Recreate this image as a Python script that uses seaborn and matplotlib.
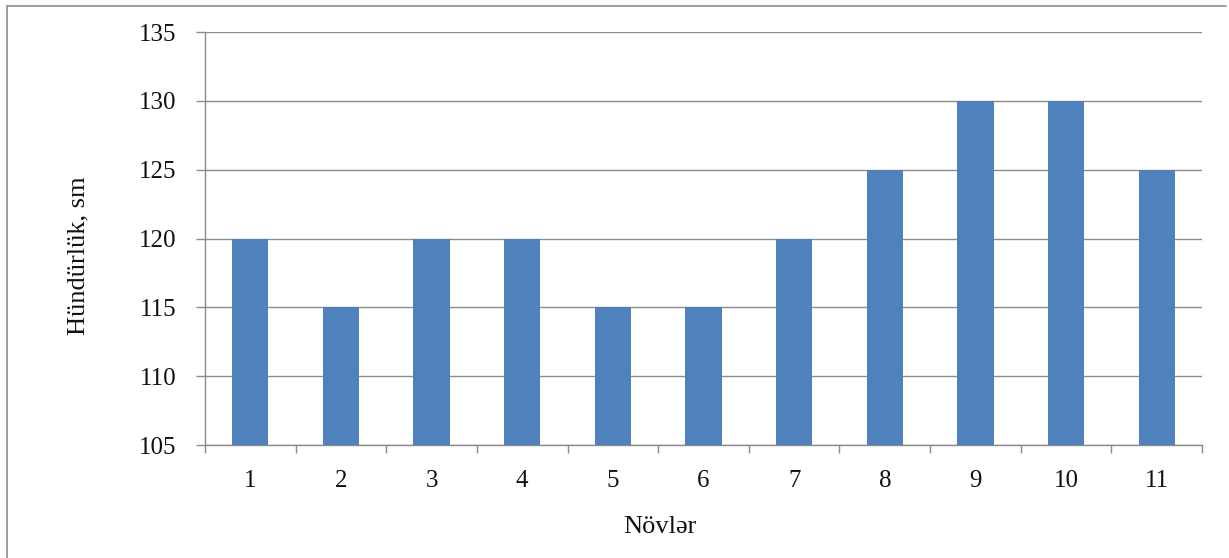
import matplotlib
matplotlib.use("Agg")
import matplotlib.pyplot as plt
import seaborn as sns
import pandas as pd
from matplotlib.lines import Line2D
from matplotlib.ticker import FixedLocator

# Heights of the varieties (cm)
categories = ["1", "2", "3", "4", "5", "6", "7", "8", "9", "10", "11"]
heights = [120, 115, 120, 120, 115, 115, 120, 125, 130, 130, 125]
y_ticks = [105, 110, 115, 120, 125, 130, 135]

sns.set_theme(style="white")
plt.rcParams["font.family"] = ["Liberation Serif", "DejaVu Serif"]

df = pd.DataFrame({"Növ": categories, "Hündürlük": heights})

fig = plt.figure(figsize=(12.29, 5.58), dpi=100)
ax = fig.add_axes([205 / 1229, 1 - 445 / 558, 997 / 1229, 413 / 558])

bar_color = "#4F81BD"
grid_color = "#8C8C8C"
text_color = "#111111"

sns.barplot(data=df, x="Növ", y="Hündürlük", color=bar_color, width=0.4,
            saturation=1, linewidth=0, ax=ax, zorder=3)

ax.set_ylim(y_ticks[0], y_ticks[-1])
ax.set_xlim(-0.5, len(categories) - 0.5)
ax.set_yticks(y_ticks)
ax.set_yticklabels([str(v) for v in y_ticks])

ax.yaxis.grid(True, color=grid_color, linewidth=1.0, zorder=0)
ax.xaxis.grid(False)

for side in ["top", "right"]:
    ax.spines[side].set_visible(False)
for side in ["left", "bottom"]:
    ax.spines[side].set_color(grid_color)
    ax.spines[side].set_linewidth(1.0)

ax.tick_params(axis="y", which="major", length=6.5, width=1.0, color=grid_color,
               pad=14, labelsize=18, labelcolor=text_color, left=True)
# category labels at bar centers, tick marks at category boundaries
ax.tick_params(axis="x", which="major", length=0, pad=18, labelsize=18,
               labelcolor=text_color, bottom=True)
ax.xaxis.set_minor_locator(FixedLocator([i - 0.5 for i in range(len(categories) + 1)]))
ax.tick_params(axis="x", which="minor", length=5.5, width=1.0, color=grid_color,
               bottom=True)

ax.set_xlabel("Növlər", fontsize=19, color=text_color)
ax.set_ylabel("Hündürlük, sm", fontsize=19, color=text_color)
ax.xaxis.set_label_coords((660 - 205) / 997, (445 - 527) / 413)
ax.xaxis.label.set_verticalalignment("center")
ax.yaxis.set_label_coords((78 - 205) / 997, (445 - 256) / 413)
ax.yaxis.label.set_verticalalignment("center")

# chart-area frame (top and left edges)
frame_kw = dict(transform=fig.transFigure, color="#8C8C8C", linewidth=1.2)
fig.add_artist(Line2D([7 / 1229, 1226 / 1229], [1 - 6 / 558, 1 - 6 / 558], **frame_kw))
fig.add_artist(Line2D([7 / 1229, 7 / 1229], [0, 1 - 6 / 558], **frame_kw))

fig.savefig("out.png", dpi=100)
